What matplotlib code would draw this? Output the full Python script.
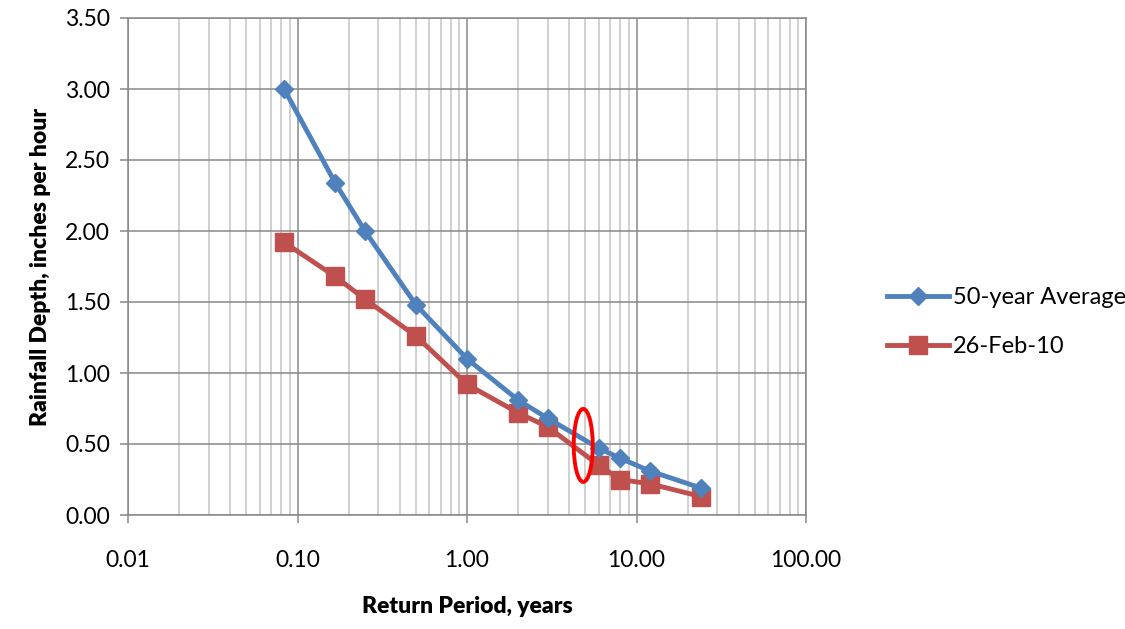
import matplotlib
matplotlib.use("Agg")
import matplotlib.pyplot as plt
from matplotlib.patches import Ellipse
from matplotlib.ticker import LogLocator, FixedLocator, FuncFormatter, NullFormatter

# return periods (years) and rainfall depths (in/hr)
return_period = [1 / 12, 1 / 6, 0.25, 0.5, 1, 2, 3, 6, 8, 12, 24]
avg_50yr = [3.00, 2.34, 2.00, 1.48, 1.10, 0.81, 0.68, 0.47, 0.40, 0.31, 0.19]
feb_26_10 = [1.92, 1.68, 1.52, 1.26, 0.92, 0.72, 0.62, 0.35, 0.25, 0.22, 0.13]

x_ticks = [0.01, 0.1, 1, 10, 100]
y_ticks = [0.0, 0.5, 1.0, 1.5, 2.0, 2.5, 3.0, 3.5]

# Lato is the closest installed match to Calibri
plt.rcParams["font.family"] = ["Lato", "DejaVu Sans"]

fig = plt.figure(figsize=(11.25, 6.29), dpi=100)
ax = fig.add_axes([128 / 1125, 1 - 515 / 629, 678 / 1125, 497 / 629])

blue = "#4F81BD"
red = "#C0504D"

ax.plot(return_period, avg_50yr, color=blue, lw=3.5, marker="D", ms=9.5,
        label="50-year Average", zorder=4)
ax.plot(return_period, feb_26_10, color=red, lw=3.5, marker="s", ms=13,
        label="26-Feb-10", zorder=3)

ax.set_xscale("log")
ax.set_xlim(0.01, 100)
ax.set_ylim(0, 3.5)

ax.xaxis.set_major_locator(FixedLocator(x_ticks))
ax.xaxis.set_major_formatter(FuncFormatter(lambda v, p: f"{v:.2f}"))
ax.xaxis.set_minor_locator(LogLocator(base=10, subs=range(2, 10)))
ax.xaxis.set_minor_formatter(NullFormatter())
ax.yaxis.set_major_locator(FixedLocator(y_ticks))
ax.yaxis.set_major_formatter(FuncFormatter(lambda v, p: f"{v:.2f}"))

ax.grid(which="major", color="#888888", lw=1.1)
ax.grid(which="minor", axis="x", color="#c4c4c4", lw=1.1)
ax.set_axisbelow(True)
for s in ax.spines.values():
    s.set_color("#888888")
    s.set_linewidth(1.1)

ax.tick_params(which="major", length=6, width=1.1, color="#888888",
               labelsize=16.5, pad=7)
ax.tick_params(axis="x", which="major", pad=19)
ax.tick_params(which="minor", length=0)

ax.set_xlabel("Return Period, years", fontsize=16.5, fontweight="heavy", labelpad=18)
ax.set_ylabel("Rainfall Depth, inches per hour", fontsize=16.5, fontweight="heavy",
              labelpad=10)

# highlight ellipse around ~5 years
cx, cy = (ax.transData + ax.transAxes.inverted()).transform((4.85, 0.49))
ax.add_patch(Ellipse((cx, cy), width=19 / 678, height=73 / 497,
                     transform=ax.transAxes, fill=False, edgecolor="red",
                     lw=2.8, zorder=6))

fig.legend(loc="center left", bbox_to_anchor=(866 / 1125, 1 - 322 / 629),
           frameon=False, fontsize=17, handlelength=2.6, labelspacing=1.2,
           handletextpad=0.2)

fig.savefig("out.png", dpi=100)
